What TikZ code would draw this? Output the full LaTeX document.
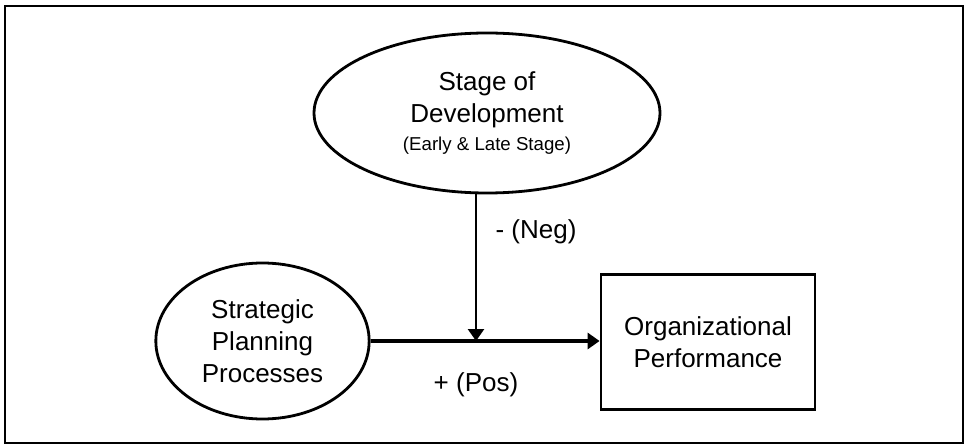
\documentclass[tikz,border=0pt]{standalone}
\usepackage{fontspec}
\setmainfont{Liberation Sans}
\usetikzlibrary{shapes.geometric,arrows.meta}

\begin{document}
\begin{tikzpicture}[x=0.75pt,y=0.75pt,yscale=-1,xscale=1,
  bigtxt/.style={font=\fontsize{19.5}{24}\selectfont},
  oval/.style={draw,ellipse,line width=2.1pt,inner sep=0pt,align=center,bigtxt},
  link/.style={line width=2pt,-{Triangle[length=9pt,width=12pt]}}]
\useasboundingbox (0,0) rectangle (970,445);

%Frame
\draw [line width=2.2pt] (5,6) rectangle (963,443);

%Shape: Ellipse [stage]
\node [oval,minimum width=259.5pt,minimum height=120pt] (stage) at (487,113)
  {Stage of\\Development\\[-3pt]{\fontsize{14}{17}\selectfont (Early \& Late Stage)}};
%Shape: Ellipse [strategic]
\node [oval,minimum width=160pt,minimum height=117pt] (strat) at (262.5,341)
  {Strategic\\Planning\\Processes};
%Shape: Rectangle [performance]
\node [draw,line width=2.1pt,minimum width=160.5pt,minimum height=101pt,align=center,bigtxt] (perf) at (708,342)
  {Organizational\\Performance};

%Straight Lines
\coordinate (join) at (476,341);
\draw [link,line width=3pt] (strat.east) -- (strat.east -| perf.west);
\draw [link] (stage.south -| join) -- (join);

% Text Node
\node [bigtxt] (neg) at (536,232) {- (Neg)};
% Text Node
\node [bigtxt] (pos) at (476,385) {+ (Pos)};

\end{tikzpicture}
\end{document}
